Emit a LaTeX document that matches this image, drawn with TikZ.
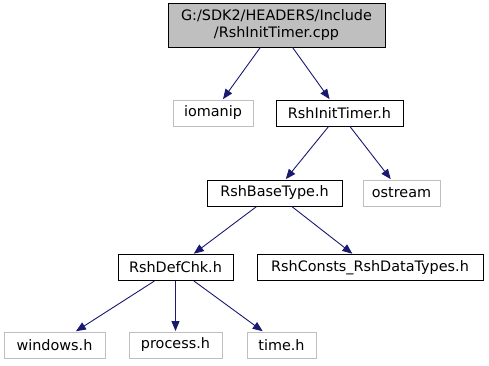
\documentclass[tikz,border=0pt]{standalone}
\usepackage{fontspec}
\setmainfont{DejaVu Sans}
\usetikzlibrary{arrows.meta}
\definecolor{edgeblue}{HTML}{191970}
\definecolor{boxgray}{HTML}{BFBFBF}
\begin{document}
\begin{tikzpicture}[x=1pt,y=-1pt,
  every node/.style={font=\fontsize{14.4}{16.5}\selectfont, inner sep=0pt, align=center},
  hbox/.style={draw=black, line width=0.9pt, fill=white, minimum height=26pt},
  extbox/.style={draw=boxgray, line width=0.9pt, fill=white, minimum height=26pt},
  rootbox/.style={draw=black, line width=0.9pt, fill=boxgray, minimum height=44pt},
  dep/.style={draw=edgeblue, line width=0.9pt, -{Triangle[length=10pt,width=8pt]}, shorten >=0.5pt}
]
\useasboundingbox (0,0) rectangle (489,365);
\node[rootbox, minimum width=217pt] (root) at (276.5,25) {G:/SDK2/HEADERS/Include\\/RshInitTimer.cpp};
\node[extbox, minimum width=80pt] (iomanip) at (213,113) {iomanip};
\node[hbox, minimum width=127pt] (timer) at (339.5,113) {RshInitTimer.h};
\node[hbox, minimum width=135pt] (base) at (274.5,193) {RshBaseType.h};
\node[extbox, minimum width=77pt] (ostream) at (401.5,193) {ostream};
\node[hbox, minimum width=115pt] (defchk) at (175.5,267.5) {RshDefChk.h};
\node[hbox, minimum width=226pt] (consts) at (370,267.5) {RshConsts\_RshDataTypes.h};
\node[extbox, minimum width=101pt] (windows) at (54.5,345) {windows.h};
\node[extbox, minimum width=93pt] (process) at (175.5,345) {process.h};
\node[extbox, minimum width=69pt] (time) at (281.5,345) {time.h};
\draw[dep] (root) -- (iomanip);
\draw[dep] (root) -- (timer);
\draw[dep] (timer) -- (base);
\draw[dep] (timer) -- (ostream);
\draw[dep] (base) -- (defchk);
\draw[dep] (base) -- (consts);
\draw[dep] (defchk) -- (windows);
\draw[dep] (defchk) -- (process);
\draw[dep] (defchk) -- (time);
\end{tikzpicture}
\end{document}
